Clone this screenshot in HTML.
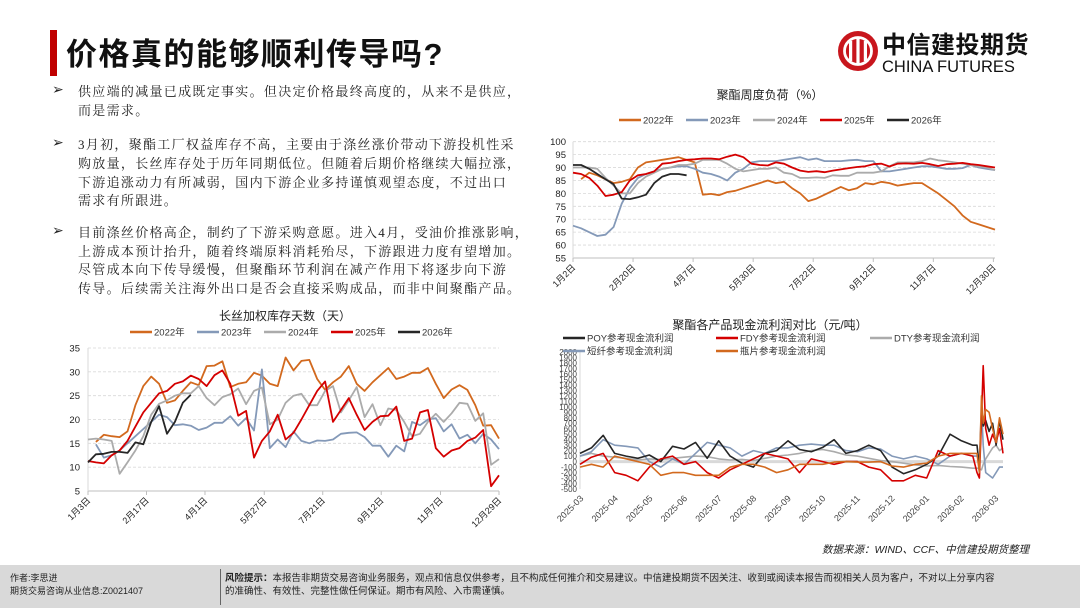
<!DOCTYPE html>
<html><head><meta charset="utf-8">
<style>
body{margin:0;width:1080px;height:608px;position:relative;background:#fff;overflow:hidden;font-family:"Liberation Sans","Noto Sans CJK SC",sans-serif;}
.ln{position:absolute;left:78px;white-space:nowrap;font-family:"Liberation Serif","Noto Serif CJK SC",serif;font-size:13px;letter-spacing:1.3px;color:#222;}
.bl{position:absolute;left:52px;font-size:14px;color:#222;}
svg text{font-family:"Liberation Sans","Noto Sans CJK SC",sans-serif;}
</style></head><body>
<div style="position:absolute;left:50px;top:30px;width:7px;height:46px;background:#c00000"></div>
<div style="position:absolute;left:66px;top:29px;font-size:31px;letter-spacing:1.5px;font-weight:bold;color:#111;font-family:'Liberation Sans','Noto Sans CJK SC',sans-serif;">价格真的能够顺利传导吗?</div>
<div style="position:absolute;left:836px;top:29px;">
<svg width="210" height="48"><circle cx="22" cy="22" r="20" fill="#c8161d"/><circle cx="22" cy="22" r="13.5" fill="none" stroke="#fff" stroke-width="2.8"/><rect x="13" y="12" width="3.2" height="20" fill="#fff"/><rect x="20.4" y="9" width="3.2" height="26" fill="#fff"/><rect x="27.8" y="12" width="3.2" height="20" fill="#fff"/>
<text x="46" y="24" font-size="24" font-weight="bold" fill="#111" letter-spacing="0.5">中信建投期货</text><text x="46" y="43" font-size="16.5" fill="#111">CHINA FUTURES</text></svg></div>

<div class="bl" style="top:81px">➢</div>
<div class="ln" style="top:81px">供应端的减量已成既定事实。但决定价格最终高度的，从来不是供应，</div>
<div class="ln" style="top:100px">而是需求。</div>
<div class="bl" style="top:134px">➢</div>
<div class="ln" style="top:134px">3月初，聚酯工厂权益库存不高，主要由于涤丝涨价带动下游投机性采</div>
<div class="ln" style="top:153px">购放量，长丝库存处于历年同期低位。但随着后期价格继续大幅拉涨，</div>
<div class="ln" style="top:172px">下游追涨动力有所减弱，国内下游企业多持谨慎观望态度，不过出口</div>
<div class="ln" style="top:190px">需求有所跟进。</div>
<div class="bl" style="top:222px">➢</div>
<div class="ln" style="top:222px">目前涤丝价格高企，制约了下游采购意愿。进入4月，受油价推涨影响，</div>
<div class="ln" style="top:241px">上游成本预计抬升，随着终端原料消耗殆尽，下游跟进力度有望增加。</div>
<div class="ln" style="top:259px">尽管成本向下传导缓慢，但聚酯环节利润在减产作用下将逐步向下游</div>
<div class="ln" style="top:278px">传导。后续需关注海外出口是否会直接采购成品，而非中间聚酯产品。</div>

<svg id="c1" width="1080" height="608" style="position:absolute;left:0;top:0"></svg>

<div style="position:absolute;left:822px;top:542px;font-size:10.5px;font-style:italic;color:#222;">数据来源：WIND、CCF、中信建投期货整理</div>
<div style="position:absolute;left:0;top:565px;width:1080px;height:43px;background:#d9d9d9;"></div>
<div style="position:absolute;left:10px;top:572px;font-size:9px;line-height:13px;color:#222;">作者:李思进<br>期货交易咨询从业信息:Z0021407</div>
<div style="position:absolute;left:220px;top:569px;width:1px;height:36px;background:#666;"></div>
<div style="position:absolute;left:225px;top:572px;font-size:9.5px;line-height:13px;color:#222;width:850px;white-space:nowrap;"><b>风险提示：</b>本报告非期货交易咨询业务服务，观点和信息仅供参考，且不构成任何推介和交易建议。中信建投期货不因关注、收到或阅读本报告而视相关人员为客户，不对以上分享内容<br>的准确性、有效性、完整性做任何保证。期市有风险、入市需谨慎。</div>

<script>
// ---- Chart 1: 聚酯周度负荷 ----
const loadTicks = [100,95,90,85,80,75,70,65,60,55];
const loadDates = ["1月2日","2月20日","4月7日","5月30日","7月22日","9月12日","11月7日","12月30日"];
const loadDateWeeks = [0,7.4,14.8,22.2,29.6,37,44.4,51.8];
const load2022 = [null,85.5,88,87,85.5,84,84.5,85.5,90,92,92.5,93,93.5,94,93,92,79.5,79.8,79.3,80.5,81,82,83,84,85,84,84.5,82,80,77,78,79.5,81,82.5,81.2,82,84,83.5,84.5,84,83,83.5,84,84,82,80,77.5,75,71.5,69,68,67,66];
const load2023 = [67.5,66.5,65,63.5,64,67,76,82,86,87.5,88.5,89.5,90,90.5,90.5,89.5,88,87.5,86.5,85,88,89.5,92,92.5,92.5,92.5,93,93.5,94,93,93.5,92.5,92.5,92.5,92.8,93,92.5,92.5,88.5,88.5,89,89.5,90,90.5,90.5,90,89.5,89.5,89.8,91,90,89.5,89];
const load2024 = [90,90,90,89.5,86,83,80,80,84,86.5,88,89.5,90,91,91,91.5,93,93,93,91.5,89.5,88.5,89,89.5,89.5,90,88,87.5,86,86,86.2,86,87,86.8,86.8,88,88,88,88.5,90.5,92,92,92,92.5,93.5,92.8,92.5,92,91.5,91,90.5,90,89];
const load2025 = [88,87.5,86,83,79,79.5,80.5,85,87,87.5,88.5,91.5,91.8,92.5,93,93.2,93.5,93.5,93.2,94.2,95,94,91.5,91,90.8,92,91.5,90,88.8,88.3,88.6,88.2,88.8,89.3,89.8,90.2,90.5,91.3,91.5,90.4,91.5,91.6,91.5,91.8,91.3,90.6,91.3,91.5,91.8,91.3,91,90.5,90];
const load2026 = [91,91,89.5,87.5,85.5,83.5,78,77.8,78.5,79.5,84,86.5,87.5,87.5,87];

// ---- Chart 2: 长丝加权库存天数 ----
const invTicks = [35,30,25,20,15,10,5];
const invDates = ["1月3日","2月17日","4月1日","5月27日","7月21日","9月12日","11月7日","12月29日"];
const invDateWeeks = [0,7.4,14.8,22.3,29.7,37.1,44.6,52];
const inv2022 = [null,15.3,16.8,16.5,16.3,17.5,23,27,29,27.5,23.5,24,26,27.8,27.2,31.2,31.3,32.2,26.8,27.5,27.8,29.8,29.2,27.5,27,33,30.3,32.3,32.5,28.5,26.2,27.8,29,31.2,27.5,26,27.8,29.3,30.8,28.5,29,29.8,29.8,30.8,27.5,24.5,26.3,27.2,26.2,23,18.7,18.8,16];
const inv2023 = [null,14.8,12,12.5,13.5,15,16.5,18,19.5,21,20.5,18.8,19,18.7,17.8,18.3,19.3,19.3,20.7,18.7,20.3,17.7,30.5,14,15.8,14.2,17.5,15.5,15,15.6,15.5,15.8,17,17.2,17.3,16.3,14.5,14.5,12.2,14.5,13.3,19.5,18.8,20,20.3,17.5,19,16,16.8,15,17,15.8,13.8];
const inv2024 = [15.8,16,15.8,15.5,8.6,11,13.5,16.5,21,23.3,24,25,25.5,25.5,27,24.5,23,24.7,25.3,26.5,23.2,26,26.7,19,20,23.5,25,25.4,23,23,26,27,21.5,24,26.8,20.5,23.2,18.8,22.3,22,19.5,16.5,17,19.5,21.2,19.5,21.3,23.5,23.3,19.7,21.3,10.5,11.7];
const inv2025 = [11.3,11,10.8,12.5,13.5,15.5,18.5,21.5,23.5,25.5,26,27.5,28,29.2,28.5,27,29.3,30.3,27.5,20.8,21.8,12,15.5,17.5,21,15.8,17.2,20,23,26,28,19.5,22,24.5,21,17.8,19.5,20.7,20.8,22.7,15.5,16,21.5,22,14,12.2,13.5,14,15.5,16.2,17.8,6,8.3];
const inv2026 = [11,12.7,12.8,13.2,13.2,13,15.2,14.8,19.5,22.8,17,19.5,23.5,25.2];

// ---- Chart 3: 聚酯各产品现金流利润对比 ----
const profTicks = [2000,1900,1800,1700,1600,1500,1400,1300,1200,1100,1000,900,800,700,600,500,400,300,200,100,0,-100,-200,-300,-400,-500];
const profMonths = ["2025-03","2025-04","2025-05","2025-06","2025-07","2025-08","2025-09","2025-10","2025-11","2025-12","2026-01","2026-02","2026-03"];
const profT = [0,0.33,0.67,1,1.33,1.67,2,2.33,2.67,3,3.33,3.67,4,4.33,4.67,5,5.33,5.67,6,6.33,6.67,7,7.33,7.67,8,8.33,8.67,9,9.33,9.67,10,10.33,10.67,11,11.33,11.45,11.52,11.58,11.63,11.7,11.8,11.9,12,12.1,12.2];
const profPOY = [150,250,480,150,100,60,120,0,280,230,350,60,380,100,-30,-100,150,200,380,220,180,260,400,150,200,300,200,-100,-220,-150,-50,100,500,380,300,300,-100,900,650,750,550,700,300,750,400];
const profFDY = [-50,80,150,-200,-250,-350,-100,50,100,-50,0,-200,-300,-150,-50,50,150,100,50,-200,50,0,-50,0,0,-100,-150,-350,-350,-250,-300,200,100,150,100,-200,-300,800,1750,600,300,500,350,600,150];
const profDTY = [100,150,100,80,60,30,50,40,60,80,100,90,50,30,40,20,60,100,120,150,200,220,180,120,100,60,20,0,-30,-60,-80,-70,-90,-100,-120,-120,-130,-150,-50,50,150,250,300,200,250];
const profPSF = [100,180,400,300,280,250,0,-100,50,-50,150,350,300,250,100,200,150,250,250,300,320,300,300,200,180,250,230,100,50,100,50,-50,100,150,100,100,0,1000,300,-200,-250,-300,-200,-100,-100];
const profPET = [-100,-50,-100,100,50,0,-50,-250,-200,-200,-250,-250,-250,-100,-50,-50,-100,-200,-150,-50,-50,-50,-10,0,-10,-10,0,-80,-100,-50,-30,100,150,150,150,150,-200,1200,700,950,900,600,350,800,500];

const NS="http://www.w3.org/2000/svg";
const svg=document.getElementById('c1');
function mk(tag,attrs,parent){const e=document.createElementNS(NS,tag);for(const k in attrs)e.setAttribute(k,attrs[k]);(parent||svg).appendChild(e);return e;}
function txt(x,y,s,size,anchor,extra){const e=mk('text',Object.assign({x:x,y:y,'font-size':size,'text-anchor':anchor||'start',fill:'#222'},extra||{}));e.textContent=s;return e;}
function drawLine(data,xs,xf,yf,color,w,name){
  let d='';let pen=false;
  data.forEach((v,i)=>{if(v===null){pen=false;return;}const X=xf(xs?xs[i]:i),Y=yf(v);d+=(pen?'L':'M')+X.toFixed(1)+' '+Y.toFixed(1);pen=true;});
  const p=mk('path',{d:d,fill:'none',stroke:color,'stroke-width':w,'stroke-linejoin':'round'});
  
  
}
function legend(x,y,color,label,name,size){
  const g=mk('g',{});
  
  
  mk('line',{x1:x,y1:y,x2:x+22,y2:y,stroke:color,'stroke-width':2.5},g);
  const t=mk('text',{x:x+24,y:y+3.5,'font-size':size||9.5,fill:'#333'},g);t.textContent=label;
}
const C22='#d2691e',C23='#8499b8',C24='#ababab',C25='#d40000',C26='#262626';

// Chart 1
(function(){
  const x0=573,x1=995,y0=141.7,y1=258;
  const xf=w=>x0+(w/52)*(x1-x0), yf=v=>y0+(100-v)/45*(y1-y0);
  const t=txt(770,99,'聚酯周度负荷（%）',12,'middle',{'font-family':'"Liberation Serif","Noto Serif CJK SC",serif'});
  
  loadTicks.forEach(v=>{ if(v>55) mk('line',{x1:x0,x2:x1,y1:yf(v),y2:yf(v),stroke:'#d9d9d9','stroke-dasharray':'3,2','stroke-width':0.8}); txt(x0-7,yf(v)+3.5,String(v),9.5,'end');});
  mk('line',{x1:x0,x2:x1,y1:y1,y2:y1,stroke:'#bfbfbf'});
  mk('line',{x1:x0,x2:x0,y1:y0,y2:y1,stroke:'#d9d9d9'});
  loadDates.forEach((s,i)=>{const X=xf(loadDateWeeks[i]);mk('line',{x1:X,x2:X,y1:y1,y2:y1+4,stroke:'#bfbfbf'});txt(X+3,y1+10,s,9,'end',{transform:`rotate(-45 ${X+3} ${y1+10})`});});
  [[C22,'2022年'],[C23,'2023年'],[C24,'2024年'],[C25,'2025年'],[C26,'2026年']].forEach((l,i)=>legend(619+i*67,120,l[0],l[1],'chart1-legend-'+l[1]));
  drawLine(load2022,null,xf,yf,C22,1.8,'chart1-line-2022');
  drawLine(load2023,null,xf,yf,C23,1.8,'chart1-line-2023');
  drawLine(load2024,null,xf,yf,C24,1.8,'chart1-line-2024');
  drawLine(load2025,null,xf,yf,C25,1.8,'chart1-line-2025');
  drawLine(load2026,null,xf,yf,C26,1.8,'chart1-line-2026');
})();

// Chart 2
(function(){
  const x0=88,x1=499,y0=348,y1=491;
  const xf=w=>x0+(w/52)*(x1-x0), yf=v=>y0+(35-v)/30*(y1-y0);
  const t=txt(285,320,'长丝加权库存天数（天）',12,'middle',{'font-family':'"Liberation Serif","Noto Serif CJK SC",serif'});
  
  invTicks.forEach(v=>{ if(v>5) mk('line',{x1:x0,x2:x1,y1:yf(v),y2:yf(v),stroke:'#d9d9d9','stroke-dasharray':'3,2','stroke-width':0.8}); txt(x0-8,yf(v)+3.5,String(v),9.5,'end');});
  mk('line',{x1:x0,x2:x1,y1:y1,y2:y1,stroke:'#bfbfbf'});
  mk('line',{x1:x0,x2:x0,y1:y0,y2:y1,stroke:'#d9d9d9'});
  invDates.forEach((s,i)=>{const X=xf(invDateWeeks[i]);mk('line',{x1:X,x2:X,y1:y1,y2:y1+4,stroke:'#bfbfbf'});txt(X+3,y1+10,s,9,'end',{transform:`rotate(-45 ${X+3} ${y1+10})`});});
  [[C22,'2022年'],[C23,'2023年'],[C24,'2024年'],[C25,'2025年'],[C26,'2026年']].forEach((l,i)=>legend(130+i*67,332,l[0],l[1],'chart2-legend-'+l[1]));
  drawLine(inv2022,null,xf,yf,C22,1.8,'chart2-line-2022');
  drawLine(inv2023,null,xf,yf,C23,1.8,'chart2-line-2023');
  drawLine(inv2024,null,xf,yf,C24,1.8,'chart2-line-2024');
  drawLine(inv2025,null,xf,yf,C25,1.8,'chart2-line-2025');
  drawLine(inv2026,null,xf,yf,C26,1.8,'chart2-line-2026');
})();

// Chart 3
(function(){
  const x0=580,x1=1003,y0=352,y1=489;
  const xf=m=>x0+(m/12.2)*(x1-x0), yf=v=>y0+(2000-v)/2500*(y1-y0);
  const t=txt(770,329,'聚酯各产品现金流利润对比（元/吨）',12,'middle',{'font-family':'"Liberation Serif","Noto Serif CJK SC",serif'});
  
  profTicks.forEach(v=>txt(x0-3,yf(v)+3,String(v),8,'end',{fill:'#444'}));
  mk('line',{x1:x0,x2:x0,y1:y0,y2:y1,stroke:'#d9d9d9'});
  mk('line',{x1:x0,x2:x1,y1:yf(0),y2:yf(0),stroke:'#d9d9d9','stroke-width':3});
  profMonths.forEach((s,i)=>{const X=x0+i*(x1-x0-8)/12;txt(X+4,y1+10,s,9,'end',{transform:`rotate(-45 ${X+4} ${y1+10})`,fill:'#444'});});
  legend(563,338,'#262626','POY参考现金流利润','chart3-legend-poy',9.5);
  legend(716,338,C25,'FDY参考现金流利润','chart3-legend-fdy',9.5);
  legend(870,338,C24,'DTY参考现金流利润','chart3-legend-dty',9.5);
  legend(563,351,C23,'短纤参考现金流利润','chart3-legend-psf',9.5);
  legend(716,351,C22,'瓶片参考现金流利润','chart3-legend-pet',9.5);
  drawLine(profDTY,profT,xf,yf,C24,1.6,'chart3-line-dty');
  drawLine(profPSF,profT,xf,yf,C23,1.6,'chart3-line-psf');
  drawLine(profPOY,profT,xf,yf,'#262626',1.6,'chart3-line-poy');
  drawLine(profFDY,profT,xf,yf,C25,1.6,'chart3-line-fdy');
  drawLine(profPET,profT,xf,yf,C22,1.6,'chart3-line-pet');
})();
</script>
</body></html>
